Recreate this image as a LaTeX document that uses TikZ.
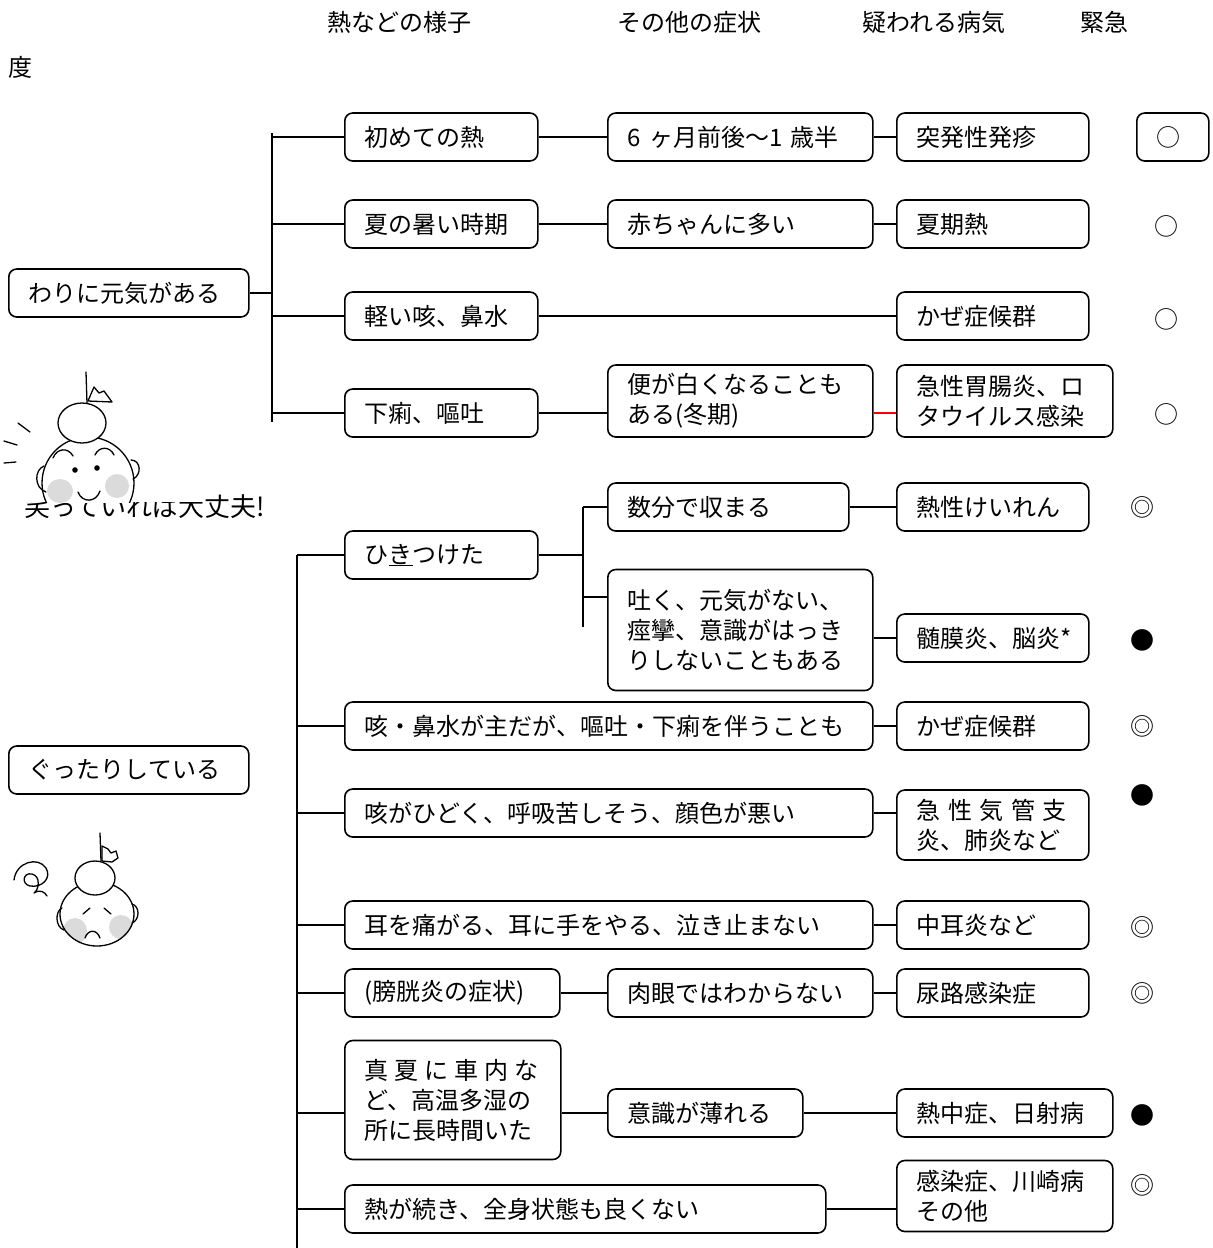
\documentclass[tikz,border=0pt]{standalone}
\usepackage{fontspec}
\setmainfont{Noto Sans CJK JP}
\begin{document}
\begin{tikzpicture}[x=1pt,y=-1pt,
  lbl/.style={font=\fontsize{24}{30}\selectfont, inner sep=0pt},
  box/.style={draw, line width=1.6pt, rounded corners=8pt, inner xsep=20pt, inner ysep=0pt,
              minimum height=48pt, align=left, anchor=west, font=\fontsize{24}{30}\selectfont},
  wire/.style={line width=1.6pt},
  face/.style={line width=1.3pt, line cap=round, line join=round},
  cheek/.style={fill=gray!28},
]
\useasboundingbox (0,0) rectangle (1213,1248);

% column headings
\node[lbl, anchor=west] (h1) at (327,22) {熱などの様子};
\node[lbl, anchor=west] (h2) at (617,22) {その他の症状};
\node[lbl, anchor=west] (h3) at (862,22) {疑われる病気};
\node[lbl, anchor=west] (h4) at (1080,22) {緊急};
\node[lbl, anchor=west] (h5) at (8,67) {度};

% ---------- upper tree ----------
\node[box, text width=200pt] (genki) at (8,293) {わりに元気がある};
\node[box, text width=153pt] (t1) at (344,137) {初めての熱};
\node[box, text width=153pt] (t2) at (344,224) {夏の暑い時期};
\node[box, text width=153pt] (t3) at (344,316) {軽い咳、鼻水};
\node[box, text width=153pt] (t4) at (344,413) {下痢、嘔吐};
\node[box, text width=225pt] (s1) at (607,137) {6 ヶ月前後～1 歳半};
\node[box, text width=225pt] (s2) at (607,224) {赤ちゃんに多い};
\node[box, text width=225pt, minimum height=72pt] (s4) at (607,401) {便が白くなることも\\ある(冬期)};
\node[box, text width=152pt] (d1) at (896,137) {突発性発疹};
\node[box, text width=152pt] (d2) at (896,224) {夏期熱};
\node[box, text width=152pt] (d3) at (896,316) {かぜ症候群};
\node[box, text width=176pt, minimum height=72pt] (d4) at (896,401) {急性胃腸炎、ロ\\タウイルス感染};
\node[box, text width=32pt] (u1) at (1136,137) {○};
\node[lbl] (u2) at (1166,226) {○};
\node[lbl] (u3) at (1166,319) {○};
\node[lbl] (u4) at (1166,414) {○};

\coordinate (ta) at (272,133);
\coordinate (tb) at (272,422);
\draw[wire] (ta) -- (tb);
\draw[wire] (genki.east) -- (genki.east -| ta);
\foreach \n in {t1,t2,t3,t4} \draw[wire] (ta |- \n.west) -- (\n.west);
\draw[wire] (t1.east) -- (s1.west);
\draw[wire] (s1.east) -- (d1.west);
\draw[wire] (t2.east) -- (s2.west);
\draw[wire] (s2.east) -- (d2.west);
\draw[wire] (t3.east) -- (d3.west);
\draw[wire] (t4.east) -- (t4.east -| s4.west);
\draw[wire, red] (t4.east -| s4.east) -- (t4.east -| d4.west);

% ---------- lower tree ----------
\node[box, text width=200pt] (gutta) at (8,770) {ぐったりしている};
\node[box, text width=153pt] (b1) at (344,555) {ひ\underline{き}つけた};
\node[box, text width=201pt] (c1) at (607,507) {数分で収まる};
\node[box, text width=225pt, minimum height=121pt] (c2) at (607,630) {吐く、元気がない、\\痙攣、意識がはっき\\りしないこともある};
\node[box, text width=152pt] (e1) at (896,507) {熱性けいれん};
\node[box, text width=152pt] (e2) at (896,638) {髄膜炎、脳炎*};
\node[box, text width=488pt] (b2) at (344,726) {咳・鼻水が主だが、嘔吐・下痢を伴うことも};
\node[box, text width=152pt] (e3) at (896,726) {かぜ症候群};
\node[box, text width=488pt] (b3) at (344,813) {咳がひどく、呼吸苦しそう、顔色が悪い};
\node[box, text width=152pt, minimum height=70pt] (e4) at (896,825) {\makebox[150pt]{急\hfill 性\hfill 気\hfill 管\hfill 支}\\炎、肺炎など};
\node[box, text width=488pt] (b4) at (344,925) {耳を痛がる、耳に手をやる、泣き止まない};
\node[box, text width=152pt] (e5) at (896,925) {中耳炎など};
\node[box, text width=175pt] (b5) at (344,993) {(膀胱炎の症状)};
\node[box, text width=225pt] (c5) at (607,993) {肉眼ではわからない};
\node[box, text width=152pt] (e6) at (896,993) {尿路感染症};
\node[box, text width=176pt, minimum height=119pt] (b6) at (344,1100) {\makebox[174pt]{真\hfill 夏\hfill に\hfill 車\hfill 内\hfill な}\\ど、高温多湿の\\所に長時間いた};
\node[box, text width=155pt] (c6) at (607,1113) {意識が薄れる};
\node[box, text width=176pt] (e7) at (896,1113) {熱中症、日射病};
\node[box, text width=441pt] (b7) at (344,1209) {熱が続き、全身状態も良くない};
\node[box, text width=176pt, minimum height=71pt] (e8) at (896,1196) {感染症、川崎病\\その他};

\node[lbl] (g1) at (1142,507) {◎};
\node[lbl] (g2) at (1142,640) {●};
\node[lbl] (g3) at (1142,726) {◎};
\node[lbl] (g4) at (1142,795) {●};
\node[lbl] (g5) at (1142,927) {◎};
\node[lbl] (g6) at (1142,993) {◎};
\node[lbl] (g7) at (1142,1115) {●};
\node[lbl] (g8) at (1142,1185) {◎};

\coordinate (ba) at (297,555);
\coordinate (bb) at (297,1248);
\draw[wire] (ba) -- (bb);
\foreach \n in {b1,b2,b3,b4,b5,b7} \draw[wire] (ba |- \n.west) -- (\n.west);
\draw[wire] (ba |- c6.west) -- (b6.west |- c6.west);
\coordinate (sa) at (583,507);
\coordinate (sm) at (583,597);
\coordinate (sb) at (583,627);
\draw[wire] (sa) -- (sb);
\draw[wire] (b1.east) -- (b1.east -| sa);
\draw[wire] (sa) -- (c1.west);
\draw[wire] (sm) -- (sm -| c2.west);
\draw[wire] (c1.east) -- (e1.west);
\draw[wire] (c2.east |- e2.west) -- (e2.west);
\draw[wire] (b2.east) -- (e3.west);
\draw[wire] (b3.east) -- (b3.east -| e4.west);
\draw[wire] (b4.east) -- (e5.west);
\draw[wire] (b5.east) -- (c5.west);
\draw[wire] (c5.east) -- (e6.west);
\draw[wire] (b6.east |- c6.west) -- (c6.west);
\draw[wire] (c6.east) -- (e7.west);
\draw[wire] (b7.east) -- (b7.east -| e8.west);

% ---------- smiling child with caption ----------
\node[lbl, anchor=west, font=\fontsize{26}{30}\selectfont] (cap) at (24,507) {笑っていれば大丈夫!};
\fill[white] (0,362) rectangle (204,502);
\begin{scope}
  \clip (0,362) rectangle (204,502);
  \fill[white] (88,483) circle[radius=46pt];
  \begin{scope}
    \clip (88,483) circle[radius=46pt];
    \fill[cheek] (60,491) ellipse[x radius=13pt, y radius=12pt];
    \fill[cheek] (117,486) ellipse[x radius=12pt, y radius=12pt];
  \end{scope}
  \draw[face] (88,483) circle[radius=46pt];
  \draw[face] (44,466) .. controls (34,470) and (34,488) .. (46,492);
  \draw[face] (131,460) .. controls (141,460) and (142,475) .. (133,479);
  \draw[face, fill=white] (82,423) ellipse[x radius=24pt, y radius=20pt];
  \draw[face] (86,372) -- (87,403);
  \draw[face, fill=white] (88,401) -- (94,387) -- (99,393) -- (104,391) -- (112,402) -- cycle;
  \draw[face] (53,458) .. controls (57,448) and (68,447) .. (73,456);
  \draw[face] (95,455) .. controls (99,446) and (110,446) .. (114,455);
  \fill (75,470) circle[radius=2.8pt];
  \fill (97,468) circle[radius=2.8pt];
  \draw[face] (78,492) .. controls (82,503) and (96,503) .. (100,491);
  \draw[face] (18,423) -- (30,432);
  \draw[face] (4,441) -- (17,445);
  \draw[face] (4,463) -- (16,462);
\end{scope}

% ---------- tired child ----------
\fill[white] (97,914) ellipse[x radius=37pt, y radius=32pt];
\begin{scope}
  \clip (97,914) ellipse[x radius=37pt, y radius=32pt];
  \fill[cheek] (75,931) ellipse[x radius=12pt, y radius=13pt];
  \fill[cheek] (121,927) ellipse[x radius=12pt, y radius=12pt];
\end{scope}
\draw[face] (97,914) ellipse[x radius=37pt, y radius=32pt];
\draw[face] (62,908) .. controls (55,911) and (55,927) .. (64,930);
\draw[face] (132,904) .. controls (140,906) and (140,920) .. (132,923);
\draw[face, fill=white] (95,878) ellipse[x radius=20pt, y radius=17pt];
\draw[face] (100,833) -- (101,861);
\draw[face, fill=white] (102,846) -- (108,849) -- (111,853) -- (116,851) -- (118,858) -- (112,862) -- (102,861) -- cycle;
\draw[face] (83,914) -- (90,908);
\draw[face] (104,908) -- (111,914);
\draw[face] (85,938) .. controls (88,929) and (97,929) .. (100,938);
\draw[face] (14,880) .. controls (16,862) and (38,856) .. (46,868)
  .. controls (52,878) and (42,888) .. (30,886)
  .. controls (21,884) and (23,872) .. (32,874)
  .. controls (41,876) and (39,890) .. (34,893)
  .. controls (40,889) and (45,892) .. (47,896);
\end{tikzpicture}
\end{document}
